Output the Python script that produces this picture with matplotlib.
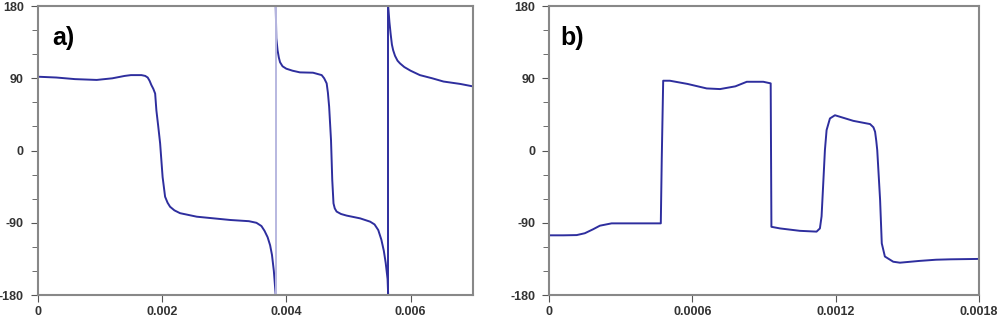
import matplotlib.pyplot as plt
from matplotlib.ticker import MultipleLocator

# panel a) phase vs time (deg), branches split at the +-180 wrap
a_t1 = [0, 0.0003, 0.0006, 0.00095, 0.0012, 0.0014, 0.0015, 0.00167, 0.00173, 0.00177,
        0.0018, 0.00183, 0.00186, 0.00189, 0.00191, 0.00194, 0.00197, 0.00201, 0.00205, 0.00209,
        0.00213, 0.0022, 0.00229, 0.00256, 0.0031, 0.0034, 0.00352, 0.0036, 0.00365, 0.0037,
        0.00374, 0.00377, 0.0038, 0.00383]
a_p1 = [92, 91, 89, 88, 90, 93, 94, 94, 93, 91,
        87, 81.5, 77, 71, 50, 30, 9, -33, -57.5, -65,
        -70, -74.5, -78, -82.4, -86.5, -88, -90, -94, -100, -108,
        -118, -130, -150, -180]
a_t2 = [0.00383, 0.00384, 0.00386, 0.00388, 0.0039, 0.00394, 0.004, 0.0041, 0.00422, 0.00443,
        0.00457, 0.00461, 0.00465, 0.00467, 0.00469, 0.00472, 0.00474, 0.00476, 0.00478, 0.00481,
        0.00488, 0.00497, 0.00519, 0.00535, 0.00542, 0.00548, 0.00553, 0.00557, 0.0056, 0.00563,
        0.00564]
a_p2 = [180, 140, 125, 116, 110, 105, 102, 99.5, 97.4, 97,
        94, 90, 83.7, 72, 54.5, 13, -36.7, -65.8, -72, -76,
        -79, -81, -84.5, -88.6, -92, -99, -111, -125, -140, -160,
        -180]
a_t3 = [0.00564, 0.00566, 0.00568, 0.0057, 0.00572, 0.00575, 0.00579, 0.00583, 0.0059, 0.006,
        0.00615, 0.00635, 0.00653, 0.0068, 0.007]
a_p3 = [180, 160, 145, 132, 125, 118, 112, 108.6, 104, 99.5,
        94, 90, 86, 83, 80]
a_wraps = [0.00383, 0.00564]

# panel b)
b_t = [0, 0.00006, 0.000116, 0.00015, 0.000185, 0.000213, 0.000262, 0.00035, 0.000468, 0.000472,
       0.000478, 0.000506, 0.00058, 0.00066, 0.000716, 0.00078, 0.000828, 0.000897, 0.000928, 0.000931,
       0.000967, 0.00105, 0.00112, 0.001134, 0.001141, 0.001148, 0.001155, 0.001162, 0.001176, 0.001197,
       0.001274, 0.001344, 0.001358, 0.001365, 0.00137, 0.001374, 0.001386, 0.001393, 0.001406, 0.001441,
       0.001469, 0.00155, 0.00162, 0.00168, 0.0018]
b_p = [-105.6, -105.6, -105.3, -103, -98, -93.6, -90.7, -90.7, -90.7, -10,
       87, 87, 83, 77.4, 76.6, 80, 85.7, 85.7, 83.7, -95,
       -97, -100, -101, -97, -82, -41, 0.6, 25.5, 40, 44,
       37, 33, 29, 23.4, 12, 0.6, -61.6, -115.6, -132, -138.5,
       -139.7, -137.5, -136, -135.5, -135]

line_col = '#2e2e9e'
plt.rcParams['font.family'] = ['Liberation Sans', 'DejaVu Sans']
plt.rcParams['axes.unicode_minus'] = False

fig = plt.figure(figsize=(10, 3.2), dpi=100)
ax1 = fig.add_axes([0.0377, 0.078, 0.435, 0.903])
ax2 = fig.add_axes([0.549, 0.078, 0.430, 0.903])

ax1.plot(a_t1, a_p1, color=line_col, lw=1.4)
ax1.plot(a_t2, a_p2, color=line_col, lw=1.4)
ax1.plot(a_t3, a_p3, color=line_col, lw=1.4)
ax1.axvline(a_wraps[0], color='#b8b8e0', lw=1.4)
ax1.axvline(a_wraps[1], color=line_col, lw=1.4)
ax1.set_xlim(0, 0.007)
ax1.set_xticks([0, 0.002, 0.004, 0.006])
ax1.set_xticklabels(['0', '0.002', '0.004', '0.006'])

ax2.plot(b_t, b_p, color=line_col, lw=1.4)
ax2.set_xlim(0, 0.0018)
ax2.set_xticks([0, 0.0006, 0.0012, 0.0018])
ax2.set_xticklabels(['0', '0.0006', '0.0012', '0.0018'])

for ax, lab, lx in [(ax1, 'a)', 0.033), (ax2, 'b)', 0.026)]:
    ax.set_ylim(-180, 180)
    ax.yaxis.set_major_locator(MultipleLocator(90))
    ax.yaxis.set_minor_locator(MultipleLocator(30))
    for s in ax.spines.values():
        s.set_color('#888888')
        s.set_linewidth(1.5)
    ax.tick_params(axis='both', which='both', direction='out', color='#555555',
                   labelcolor='#333333', labelsize=9)
    ax.tick_params(axis='y', which='major', length=5, pad=5)
    ax.tick_params(axis='y', which='minor', length=4)
    ax.tick_params(axis='x', which='major', length=5, pad=3)
    for t in ax.get_xticklabels() + ax.get_yticklabels():
        t.set_fontweight('bold')
    ax.text(lx, 0.865, lab, transform=ax.transAxes, fontsize=18, fontweight='bold')

fig.savefig('out.png', dpi=100)
